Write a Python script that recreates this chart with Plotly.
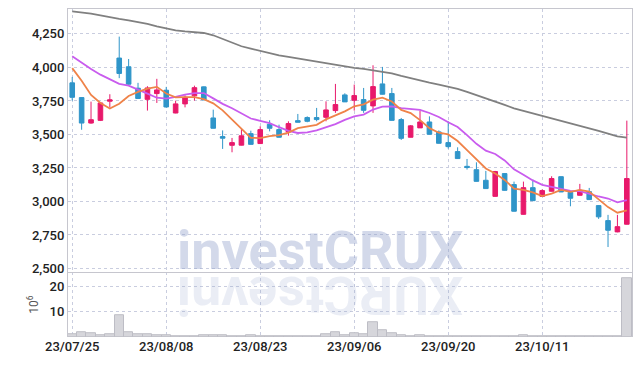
import plotly.graph_objects as go

# ---------------- data ----------------
dates_idx = list(range(60))
tick_idx = [0, 10, 20, 30, 40, 50]
tick_labels = ["23/07/25", "23/08/08", "23/08/23", "23/09/06", "23/09/20", "23/10/11"]

opens = [3885, 3775, 3585, 3605, 3748, 4070, 4005, 3845, 3762, 3805,
         3830, 3660, 3728, 3788, 3855, 3623, 3484, 3419, 3420, 3506,
         3432, 3576, 3536, 3519, 3603, 3626, 3626, 3628, 3678, 3795,
         3755, 3760, 3713, 3877, 3805, 3611, 3479, 3549, 3593, 3519,
         3439, 3372, 3262, 3237, 3158, 3038, 3208, 3126, 2904, 3103,
         3038, 3076, 3185, 3068, 3046, 3073, 2969, 2857, 2773, 2830]
highs = [3929, 3777, 3745, 3740, 3800, 4230, 4063, 3885, 3860, 3915,
         3855, 3752, 3792, 3864, 3858, 3685, 3530, 3474, 3543, 3528,
         3561, 3606, 3573, 3598, 3653, 3635, 3698, 3747, 3877, 3807,
         3872, 3847, 4016, 4004, 3847, 3623, 3570, 3678, 3635, 3530,
         3598, 3404, 3317, 3292, 3228, 3228, 3210, 3148, 3148, 3163,
         3090, 3188, 3186, 3070, 3131, 3101, 2972, 2900, 2900, 3603]
lows = [3752, 3535, 3580, 3600, 3703, 3920, 3870, 3765, 3678, 3735,
        3700, 3658, 3702, 3752, 3755, 3545, 3392, 3367, 3418, 3424,
        3430, 3523, 3478, 3491, 3590, 3591, 3598, 3598, 3661, 3742,
        3678, 3661, 3661, 3798, 3603, 3459, 3478, 3548, 3500, 3432,
        3394, 3318, 3238, 3148, 3095, 3036, 3080, 2925, 2902, 3004,
        3036, 3074, 3070, 2964, 3044, 3012, 2870, 2660, 2770, 2828]
closes = [3777, 3585, 3610, 3735, 3758, 3955, 3875, 3768, 3847, 3832,
          3705, 3728, 3777, 3849, 3758, 3546, 3472, 3439, 3490, 3426,
          3536, 3546, 3479, 3581, 3591, 3598, 3611, 3683, 3723, 3743,
          3790, 3680, 3857, 3800, 3605, 3471, 3564, 3593, 3501, 3434,
          3409, 3320, 3253, 3150, 3096, 3223, 3083, 2927, 3103, 3006,
          3081, 3171, 3071, 3024, 3083, 3014, 2885, 2785, 2812, 3171]

ma5 = [3995, 3900, 3795, 3735, 3693, 3729, 3787, 3818, 3841, 3855,
       3805, 3776, 3778, 3778, 3763, 3732, 3680, 3613, 3541, 3475,
       3473, 3487, 3495, 3514, 3547, 3559, 3572, 3613, 3641, 3672,
       3710, 3724, 3759, 3774, 3746, 3683, 3659, 3607, 3547, 3513,
       3500, 3451, 3383, 3313, 3246, 3208, 3161, 3096, 3086, 3068,
       3040, 3058, 3086, 3071, 3086, 3073, 3015, 2958, 2916, 2933]
ma10 = [4083, 4033, 3989, 3946, 3909, 3877, 3864, 3837, 3805, 3774,
        3767, 3781, 3798, 3809, 3809, 3769, 3728, 3695, 3660, 3619,
        3602, 3584, 3554, 3527, 3511, 3516, 3530, 3554, 3577, 3609,
        3635, 3648, 3686, 3708, 3709, 3696, 3692, 3683, 3660, 3630,
        3591, 3555, 3495, 3430, 3379, 3354, 3306, 3240, 3200, 3157,
        3124, 3109, 3091, 3079, 3077, 3056, 3037, 3022, 2993, 3010]
ma60 = [4419, 4411, 4401, 4389, 4374, 4362, 4351, 4340, 4325, 4307,
        4290, 4277, 4269, 4265, 4257, 4240, 4213, 4183, 4158, 4140,
        4123, 4105, 4090, 4078, 4066, 4056, 4043, 4034, 4023, 4006,
        3996, 3989, 3978, 3971, 3956, 3937, 3919, 3902, 3887, 3872,
        3857, 3840, 3818, 3795, 3772, 3745, 3720, 3695, 3676, 3658,
        3638, 3620, 3601, 3583, 3564, 3546, 3526, 3504, 3486, 3476]
volume_m = [1.0, 1.9, 1.5, 0.8, 1.2, 8.6, 1.9, 1.2, 1.1, 0.8,
            0.65, 0.4, 0.35, 0.4, 0.6, 0.7, 0.8, 0.4, 0.3, 0.7,
            0.5, 0.3, 0.3, 0.4, 0.3, 0.35, 0.5, 1.2, 1.85, 0.8,
            1.45, 1.1, 5.8, 2.6, 1.45, 0.7, 0.45, 0.8, 0.4, 0.35,
            0.3, 0.3, 0.3, 0.3, 0.35, 0.3, 0.3, 0.35, 0.8, 0.5,
            0.3, 0.3, 0.3, 0.5, 0.3, 0.3, 0.4, 0.45, 0.5, 23.2]

price_ticks = [2500, 2750, 3000, 3250, 3500, 3750, 4000, 4250]
volume_ticks = [10, 20]

# ---------------- style ----------------
UP = "#e8196b"
DOWN = "#2f95c9"
GRID = "#c9cddf"
AXLINE = "#c6c6ce"
TICKFONT = dict(family="Roboto", size=13, color="#222222", weight=500)

fig = go.Figure()

fig.add_trace(go.Bar(
    x=dates_idx, y=volume_m, xaxis="x", yaxis="y2", width=1.0,
    marker=dict(color="#d6d6db", line=dict(color="#bdbdc5", width=1)),
    showlegend=False, hoverinfo="skip"))

fig.add_trace(go.Candlestick(
    x=dates_idx, open=opens, high=highs, low=lows, close=closes,
    xaxis="x2", yaxis="y", whiskerwidth=0,
    increasing=dict(line=dict(color=UP, width=1), fillcolor=UP),
    decreasing=dict(line=dict(color=DOWN, width=1), fillcolor=DOWN),
    showlegend=False))

for vals, col in [(ma60, "#808080"), (ma10, "#c95cee"), (ma5, "#ef8349")]:
    fig.add_trace(go.Scatter(
        x=dates_idx, y=vals, xaxis="x2", yaxis="y", mode="lines",
        line=dict(color=col, width=1.8), showlegend=False, hoverinfo="skip"))

SEP = 0.1975
wm_x = 0.447
fig.add_annotation(
    text="investCRUX", xref="paper", yref="paper", x=wm_x, y=0.263,
    xanchor="center", yanchor="middle", showarrow=False,
    font=dict(family="Roboto", size=54, color="rgba(150,164,204,0.42)", weight="bold"))
fig.add_annotation(
    text="XURCtsevni", xref="paper", yref="paper", x=wm_x, y=0.125,
    xanchor="center", yanchor="middle", showarrow=False, textangle=180,
    font=dict(family="Roboto", size=54, color="rgba(150,164,204,0.2)", weight="bold"))

# the page body adds an 8px offset, so the figure is sized to sit inside it
fig.update_layout(
    width=626, height=350,
    margin=dict(l=60, r=2, t=1, b=21, autoexpand=False),
    paper_bgcolor="white", plot_bgcolor="white",
    bargap=0,
    xaxis=dict(domain=[0, 1], anchor="y2", range=[-0.45, 59.55], automargin=False,
               tickmode="array", tickvals=tick_idx, ticktext=tick_labels,
               showgrid=True, gridcolor=GRID, griddash="dot", gridwidth=1,
               zeroline=False, showline=False, ticks="", tickfont=TICKFONT),
    xaxis2=dict(domain=[0, 1], anchor="y", matches="x", automargin=False,
                tickmode="array", tickvals=tick_idx, showticklabels=False,
                showgrid=True, gridcolor=GRID, griddash="dot", gridwidth=1,
                zeroline=False, showline=True, mirror=True, linecolor=AXLINE,
                ticks="", rangeslider=dict(visible=False)),
    yaxis=dict(domain=[SEP, 1], range=[2472, 4436], automargin=False,
               tickmode="array", tickvals=price_ticks, tickformat=",",
               showgrid=True, gridcolor=GRID, griddash="dot", gridwidth=1,
               zeroline=False, showline=True, mirror=True, linecolor=AXLINE,
               ticks="", tickfont=TICKFONT),
    yaxis2=dict(domain=[0, SEP], range=[0, 25.5], automargin=False,
                tickmode="array", tickvals=volume_ticks,
                showgrid=True, gridcolor=GRID, griddash="dot", gridwidth=1,
                zeroline=False, showline=True, mirror=True, linecolor=AXLINE,
                ticks="", tickfont=TICKFONT,
                title=dict(text="10<sup>6</sup>", standoff=8,
                           font=dict(family="Roboto", size=12, color="#555"))),
)

fig.write_html("out.html")
